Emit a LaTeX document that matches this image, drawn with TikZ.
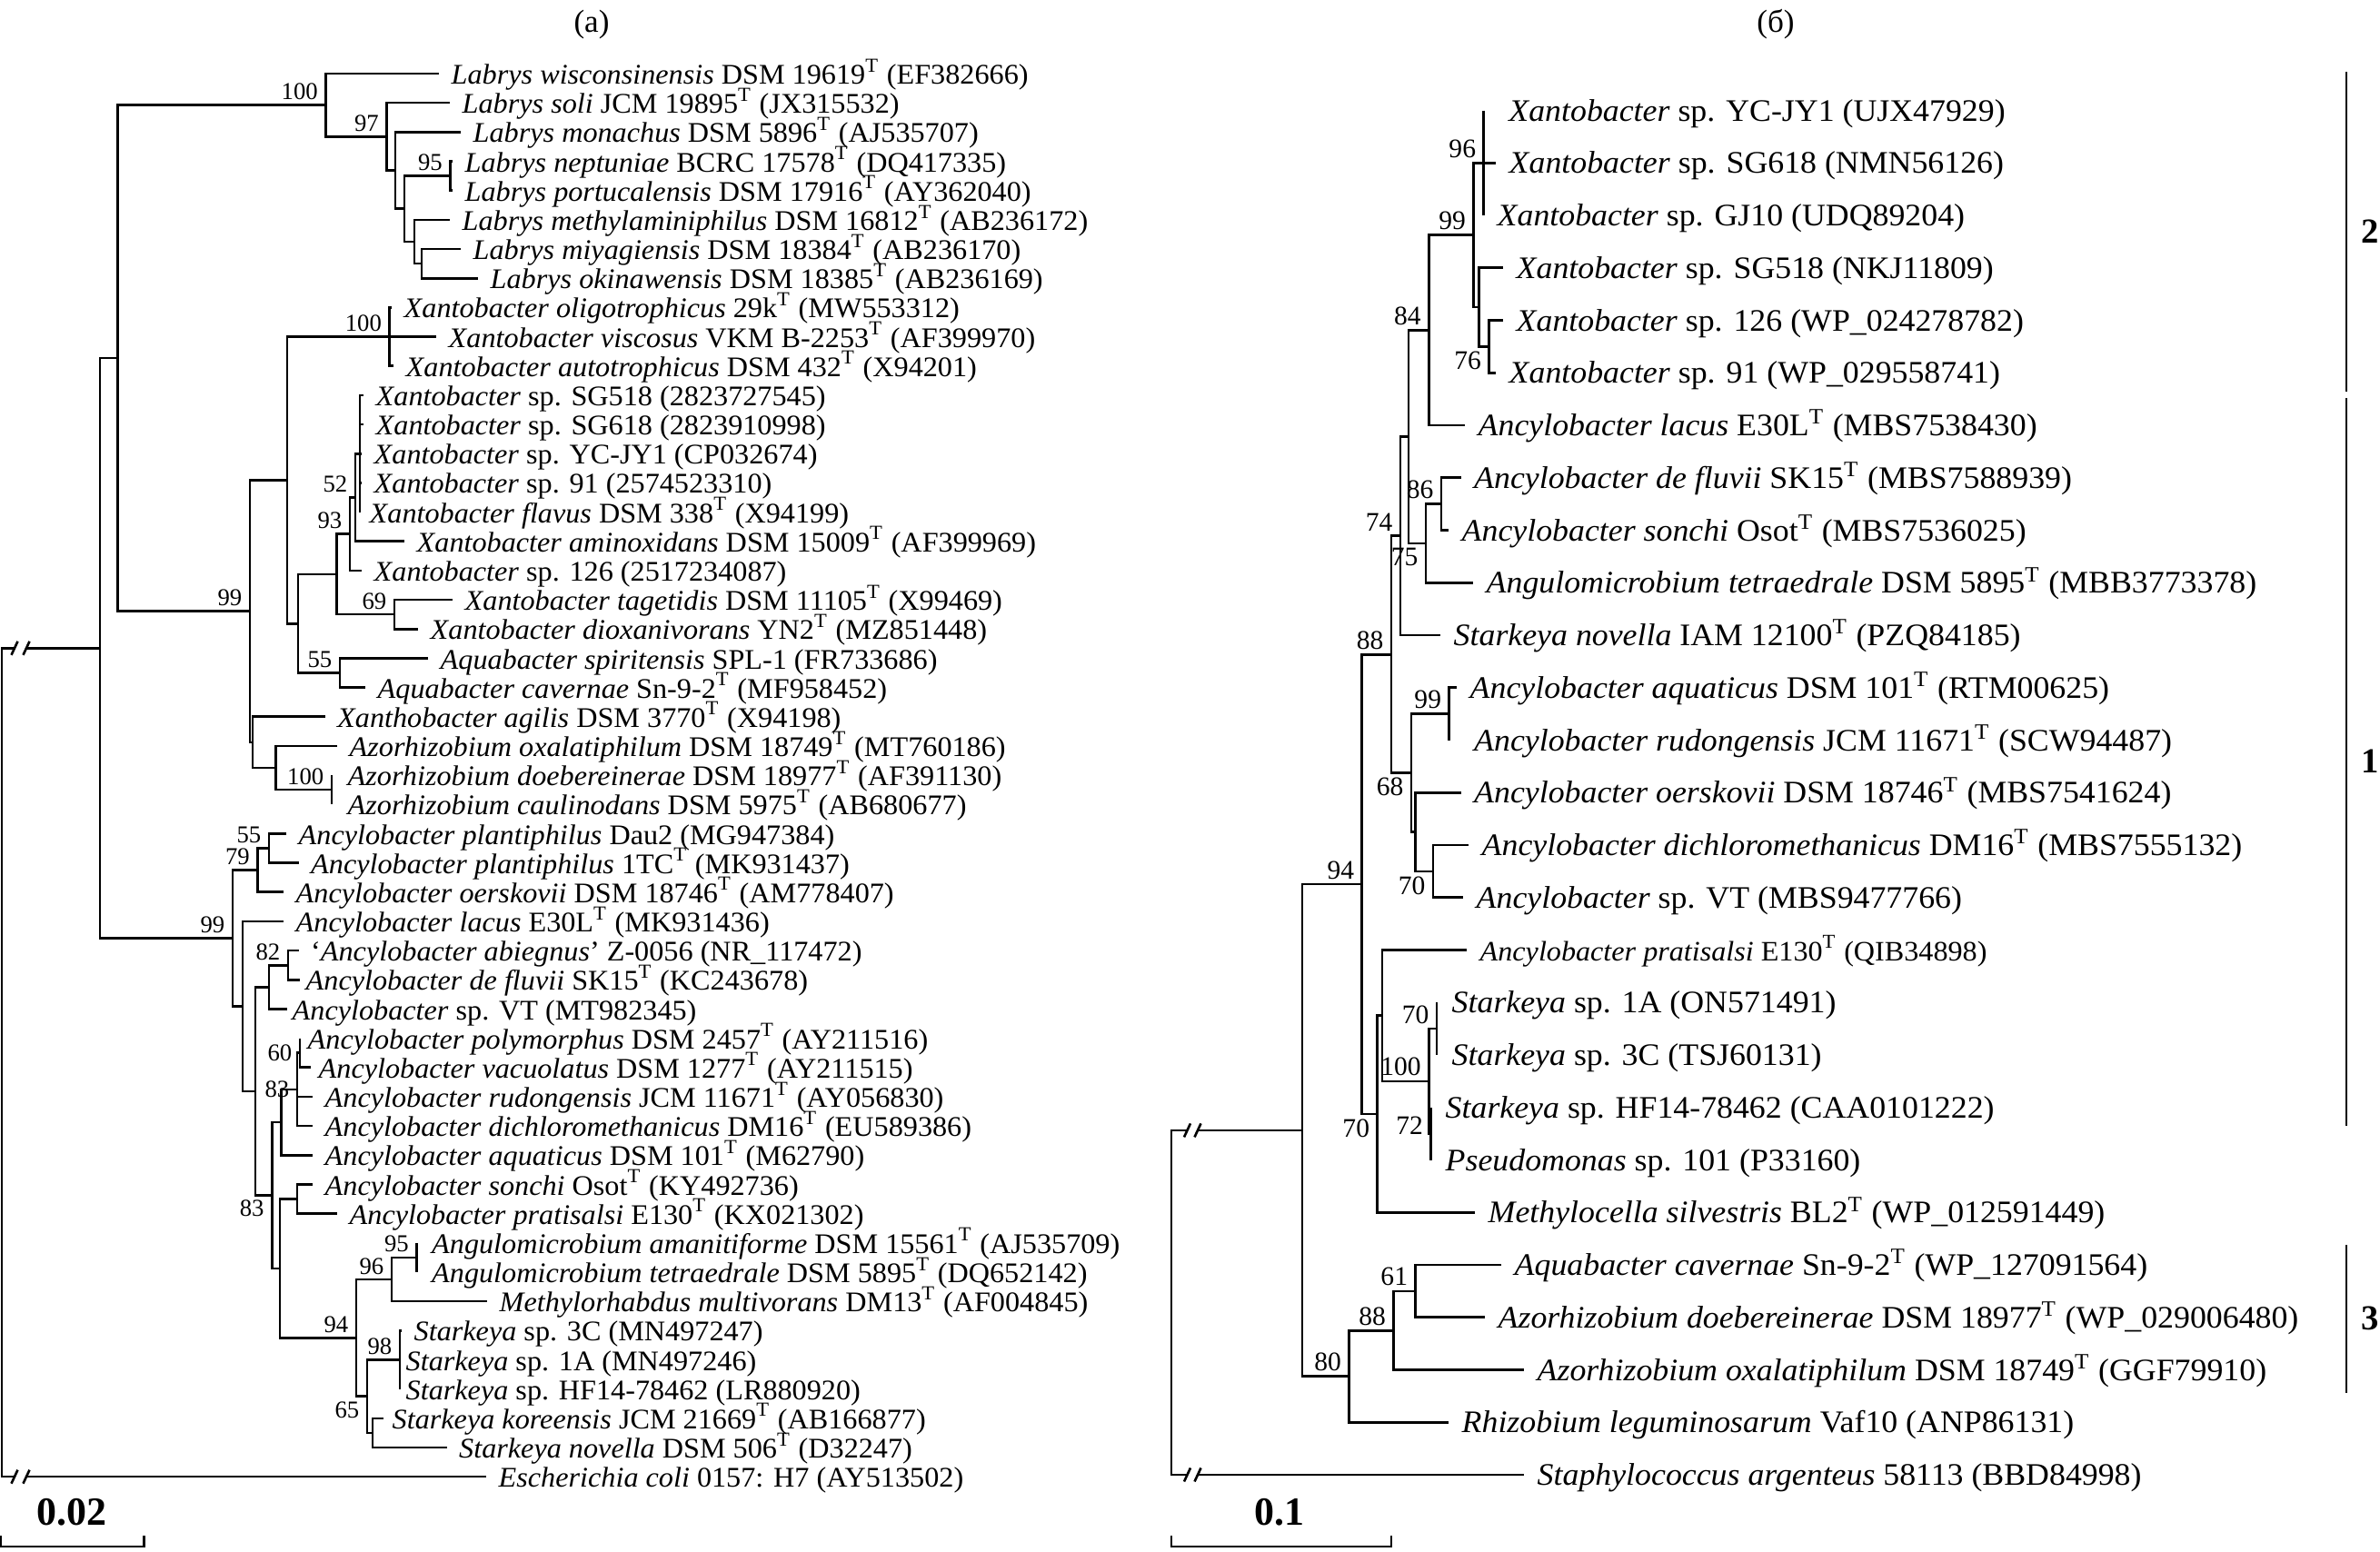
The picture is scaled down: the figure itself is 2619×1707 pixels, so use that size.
\documentclass[tikz,border=0pt]{standalone}
\usepackage{fontspec}
\setmainfont{Liberation Serif}
\newfontfamily\tipLfam[FakeStretch=1.03]{Liberation Serif}
\newfontfamily\tipRfam[FakeStretch=1.04]{Liberation Serif}
\newcommand{\tipLfont}{\tipLfam\fontsize{8.9pt}{10pt}\selectfont}
\newcommand{\tipRfont}{\tipRfam\fontsize{9.8pt}{11pt}\selectfont}
\newcommand{\tipRsmall}{\tipRfam\fontsize{8.8pt}{10pt}\selectfont}
\newcommand{\labLfont}{\fontsize{7.6pt}{9pt}\selectfont}
\newcommand{\labRfont}{\fontsize{8.4pt}{10pt}\selectfont}
\newcommand{\titfont}{\fontsize{10pt}{12pt}\selectfont}
\newcommand{\bnfont}{\bfseries\fontsize{12.5pt}{14pt}\selectfont}
\newcommand{\clnfont}{\bfseries\fontsize{11pt}{13pt}\selectfont}
\newcommand{\Tt}{\textsuperscript{T}}
\newcommand{\itn}[1]{\textit{#1}}
\newcommand{\clade}[3]{\draw[br] (#2) -| (#1) |- (#3);}
\newcommand{\midc}[2]{\draw[br] (#1 |- #2) -- (#2);}
\begin{document}
\begin{tikzpicture}[x=0.1mm,y=-0.1mm,
  br/.style={line width=0.75pt},
  thin bar/.style={line width=0.6pt},
  lt/.style={font=\tipLfont, anchor=west, inner ysep=0pt, inner xsep=1.3mm, text height=0.66em, text depth=0pt},
  rt/.style={font=\tipRfont, anchor=west, inner ysep=0pt, inner xsep=1.4mm, text height=0.66em, text depth=0pt},
  la/.style={inner sep=0pt, anchor=south east, xshift=-0.8mm, yshift=0.5mm},
  lb/.style={inner sep=0pt, anchor=north east, xshift=-0.8mm, yshift=-0.5mm},
  lc/.style={inner sep=0pt, anchor=east, xshift=-0.8mm}]
\fill[white] (0,0) rectangle (2619,1707);
\useasboundingbox (0,0) rectangle (2619,1707);

% titles
\node[font=\titfont] (ta) at (651,27) {(а)};
\node[font=\titfont] (tb) at (1954,27) {(б)};

% ================= LEFT TREE =================
\begin{scope}[y=-3.217mm, yshift=-4.883mm, font=\labLfont]
\node[lt] (t1) at (483,1) {\itn{Labrys wisconsinensis} DSM 19619\Tt{} (EF382666)};
\node[lt] (t2) at (495,2) {\itn{Labrys soli} JCM 19895\Tt{} (JX315532)};
\node[lt] (t3) at (507,3) {\itn{Labrys monachus} DSM 5896\Tt{} (AJ535707)};
\node[lt] (t4) at (498,4) {\itn{Labrys neptuniae} BCRC 17578\Tt{} (DQ417335)};
\node[lt] (t5) at (498,5) {\itn{Labrys portucalensis} DSM 17916\Tt{} (AY362040)};
\node[lt] (t6) at (495,6) {\itn{Labrys methylaminiphilus} DSM 16812\Tt{} (AB236172)};
\node[lt] (t7) at (507,7) {\itn{Labrys miyagiensis} DSM 18384\Tt{} (AB236170)};
\node[lt] (t8) at (526,8) {\itn{Labrys okinawensis} DSM 18385\Tt{} (AB236169)};
\node[lt] (t9) at (431,9) {\itn{Xantobacter oligotrophicus} 29k\Tt{} (MW553312)};
\node[lt] (t10) at (480,10) {\itn{Xantobacter viscosus} VKM B-2253\Tt{} (AF399970)};
\node[lt] (t11) at (433,11) {\itn{Xantobacter autotrophicus} DSM 432\Tt{} (X94201)};
\node[lt] (t12) at (400,12) {\itn{Xantobacter} sp. SG518 (2823727545)};
\node[lt] (t13) at (400,13) {\itn{Xantobacter} sp. SG618 (2823910998)};
\node[lt] (t14) at (398,14) {\itn{Xantobacter} sp. YC-JY1 (CP032674)};
\node[lt] (t15) at (398,15) {\itn{Xantobacter} sp. 91 (2574523310)};
\node[lt,inner xsep=1.0mm] (t16) at (396,16) {\itn{Xantobacter flavus} DSM 338\Tt{} (X94199)};
\node[lt] (t17) at (445,17) {\itn{Xantobacter aminoxidans} DSM 15009\Tt{} (AF399969)};
\node[lt] (t18) at (398,18) {\itn{Xantobacter} sp. 126 (2517234087)};
\node[lt] (t19) at (498,19) {\itn{Xantobacter tagetidis} DSM 11105\Tt{} (X99469)};
\node[lt] (t20) at (460,20) {\itn{Xantobacter dioxanivorans} YN2\Tt{} (MZ851448)};
\node[lt] (t21) at (471,21) {\itn{Aquabacter spiritensis} SPL-1 (FR733686)};
\node[lt] (t22) at (402,22) {\itn{Aquabacter cavernae} Sn-9-2\Tt{} (MF958452)};
\node[lt] (t23) at (357.5,23) {\itn{Xanthobacter agilis} DSM 3770\Tt{} (X94198)};
\node[lt] (t24) at (371,24) {\itn{Azorhizobium oxalatiphilum} DSM 18749\Tt{} (MT760186)};
\node[lt,inner xsep=1.7mm] (t25) at (365,25) {\itn{Azorhizobium doebereinerae} DSM 18977\Tt{} (AF391130)};
\node[lt,inner xsep=1.7mm] (t26) at (365,26) {\itn{Azorhizobium caulinodans} DSM 5975\Tt{} (AB680677)};
\node[lt] (t27) at (315,27) {\itn{Ancylobacter plantiphilus} Dau2 (MG947384)};
\node[lt] (t28) at (328.5,28) {\itn{Ancylobacter plantiphilus} 1TC\Tt{} (MK931437)};
\node[lt] (t29) at (312,29) {\itn{Ancylobacter oerskovii} DSM 18746\Tt{} (AM778407)};
\node[lt] (t30) at (312,30) {\itn{Ancylobacter lacus} E30L\Tt{} (MK931436)};
\node[lt] (t31) at (328.5,31) {‘\itn{Ancylobacter abiegnus}’ Z-0056 (NR\_117472)};
\node[lt,inner xsep=0.6mm] (t32) at (330,32) {\itn{Ancylobacter de fluvii} SK15\Tt{} (KC243678)};
\node[lt,inner xsep=0.5mm] (t33) at (316,33) {\itn{Ancylobacter} sp. VT (MT982345)};
\node[lt,inner xsep=0.8mm] (t34) at (330,34) {\itn{Ancylobacter polymorphus} DSM 2457\Tt{} (AY211516)};
\node[lt,inner xsep=0.85mm] (t35) at (341.5,35) {\itn{Ancylobacter vacuolatus} DSM 1277\Tt{} (AY211515)};
\node[lt] (t36) at (344,36) {\itn{Ancylobacter rudongensis} JCM 11671\Tt{} (AY056830)};
\node[lt] (t37) at (344,37) {\itn{Ancylobacter dichloromethanicus} DM16\Tt{} (EU589386)};
\node[lt] (t38) at (344,38) {\itn{Ancylobacter aquaticus} DSM 101\Tt{} (M62790)};
\node[lt] (t39) at (344,39) {\itn{Ancylobacter sonchi} Osot\Tt{} (KY492736)};
\node[lt] (t40) at (371,40) {\itn{Ancylobacter pratisalsi} E130\Tt{} (KX021302)};
\node[lt,inner xsep=1.6mm] (t41) at (458.5,41) {\itn{Angulomicrobium amanitiforme} DSM 15561\Tt{} (AJ535709)};
\node[lt,inner xsep=1.6mm] (t42) at (458.5,42) {\itn{Angulomicrobium tetraedrale} DSM 5895\Tt{} (DQ652142)};
\node[lt] (t43) at (536,43) {\itn{Methylorhabdus multivorans} DM13\Tt{} (AF004845)};
\node[lt] (t44) at (442,44) {\itn{Starkeya} sp. 3C (MN497247)};
\node[lt,inner xsep=0.6mm] (t45) at (440,45) {\itn{Starkeya} sp. 1A (MN497246)};
\node[lt,inner xsep=0.6mm] (t46) at (440,46) {\itn{Starkeya} sp. HF14-78462 (LR880920)};
\node[lt,inner xsep=0.9mm] (t47) at (422,47) {\itn{Starkeya koreensis} JCM 21669\Tt{} (AB166877)};
\node[lt] (t48) at (491.5,48) {\itn{Starkeya novella} DSM 506\Tt{} (D32247)};
\node[lt] (t49) at (535,49) {\itn{Escherichia coli} 0157: H7 (AY513502)};

\coordinate (n95) at (495.5,4.5);
\coordinate (n6) at (464,7.5);
\coordinate (n5) at (456,6.75);
\coordinate (n4) at (445,5.625);
\coordinate (n3) at (435,4.3125);
\coordinate (n97) at (425.5,3.156);
\coordinate (nL100) at (358.5,2.078);
\coordinate (nX100) at (428.6,10);
\coordinate (na1) at (396,14);
\coordinate (n52) at (391,15.5);
\coordinate (n93) at (385,16.75);
\coordinate (n69) at (434,19.5);
\coordinate (nZ) at (370.5,18.125);
\coordinate (n55a) at (374,21.5);
\coordinate (nY) at (328,19.8125);
\coordinate (nX) at (316,14.906);
\coordinate (nAz100) at (365,25.5);
\coordinate (nAz) at (303.6,24.75);
\coordinate (nAg) at (278,23.875);
\coordinate (n99big) at (275,19.39);
\coordinate (nA) at (129.5,10.734);
\coordinate (n55b) at (296,27.5);
\coordinate (n79) at (283.5,28.25);
\coordinate (n82) at (317,31.5);
\coordinate (nVT) at (296,32.25);
\coordinate (n60) at (330,34.5);
\coordinate (n83a) at (327,35.75);
\coordinate (nAq) at (309.4,36.875);
\coordinate (nSP) at (327,39.5);
\coordinate (n95b) at (458.5,41.5);
\coordinate (n96) at (431,42.25);
\coordinate (n98) at (440,45);
\coordinate (nKN) at (410,47.5);
\coordinate (n65) at (404,46.25);
\coordinate (n94a) at (392,44.25);
\coordinate (n83b) at (308,41.875);
\coordinate (n299) at (299.3,39.375);
\coordinate (n281) at (281,35.8125);
\coordinate (n267) at (267,32.906);
\coordinate (nAnc) at (256,30.578);
\coordinate (nR2) at (110,20.656);
\coordinate (rootL) at (2,34.83);

\clade{n95}{t4}{t5}
\clade{n6}{t7}{t8}
\clade{n5}{t6}{n6}
\clade{n4}{n95}{n5}
\clade{n3}{t3}{n4}
\clade{n97}{t2}{n3}
\clade{nL100}{t1}{n97}
\clade{nX100}{t9}{t11} \midc{nX100}{t10}
\clade{na1}{t12}{t16} \midc{na1}{t13} \midc{na1}{t14} \midc{na1}{t15}
\clade{n52}{na1}{t17}
\clade{n93}{n52}{t18}
\clade{n69}{t19}{t20}
\clade{nZ}{n93}{n69}
\clade{n55a}{t21}{t22}
\clade{nY}{nZ}{n55a}
\clade{nX}{nX100}{nY}
\clade{nAz100}{t25}{t26}
\clade{nAz}{t24}{nAz100}
\clade{nAg}{t23}{nAz}
\clade{n99big}{nX}{nAg}
\clade{nA}{nL100}{n99big}
\clade{n55b}{t27}{t28}
\clade{n79}{n55b}{t29}
\clade{n82}{t31}{t32}
\clade{nVT}{n82}{t33}
\clade{n60}{t34}{t35}
\clade{n83a}{n60}{t37} \midc{n83a}{t36}
\clade{nAq}{n83a}{t38}
\clade{nSP}{t39}{t40}
\clade{n95b}{t41}{t42}
\clade{n96}{n95b}{t43}
\clade{n98}{t44}{t46} \midc{n98}{t45}
\clade{nKN}{t47}{t48}
\clade{n65}{n98}{nKN}
\clade{n94a}{n96}{n65}
\clade{n83b}{nSP}{n94a}
\clade{n299}{nAq}{n83b}
\clade{n281}{nVT}{n299}
\clade{n267}{t30}{n281}
\clade{nAnc}{n79}{n267}
\clade{nR2}{nA}{nAnc}

% root with breaks
\coordinate (bL1) at (16,20.656);
\coordinate (bL2) at (29,20.656);
\coordinate (bL3) at (16,49);
\coordinate (bL4) at (29,49);
\draw[br] (bL1) -| (rootL) |- (bL3);
\draw[br] (bL2) -- (nR2);
\draw[br] (bL4) -- (t49);
\foreach \b in {bL1,bL2,bL3,bL4}
  \draw[br] ([xshift=-0.35mm,yshift=-0.75mm]\b) -- ([xshift=0.35mm,yshift=0.75mm]\b);

% bootstrap labels
\node[la] (a1) at (nL100) {100};
\node[la] (a2) at (n97) {97};
\node[la] (a3) at (n95) {95};
\node[la] (a4) at (nX100) {100};
\node[la] (a5) at (n52) {52};
\node[la] (a6) at (n93) {93};
\node[la] (a7) at (n69) {69};
\node[la] (a8) at (n55a) {55};
\node[la] (a9) at (n99big) {99};
\node[la] (a10) at (nAz100) {100};
\node[la] (a11) at (n55b) {55};
\node[la] (a12) at (n79) {79};
\node[la] (a13) at (nAnc) {99};
\node[la] (a14) at (n82) {82};
\node[lc] (a15) at (n60) {60};
\node[lc] (a16) at (n83a) {83};
\node[lb] (a17) at (n299) {83};
\node[la] (a18) at (n94a) {94};
\node[la] (a19) at (n96) {96};
\node[la] (a20) at (n95b) {95};
\node[la] (a21) at (n98) {98};
\node[lb] (a22) at (n65) {65};
\end{scope}

% ================= RIGHT TREE =================
\begin{scope}[y=-5.775mm, yshift=-6.375mm, font=\labRfont]
\node[rt,inner xsep=2.7mm] (u1) at (1632.7,1) {\itn{Xantobacter} sp. YC-JY1 (UJX47929)};
\node[rt] (u2) at (1646,2) {\itn{Xantobacter} sp. SG618 (NMN56126)};
\node[rt,inner xsep=1.43mm] (u3) at (1632.7,3) {\itn{Xantobacter} sp. GJ10 (UDQ89204)};
\node[rt] (u4) at (1654,4) {\itn{Xantobacter} sp. SG518 (NKJ11809)};
\node[rt] (u5) at (1654,5) {\itn{Xantobacter} sp. 126 (WP\_024278782)};
\node[rt] (u6) at (1646,6) {\itn{Xantobacter} sp. 91 (WP\_029558741)};
\node[rt] (u7) at (1612,7) {\itn{Ancylobacter lacus} E30L\Tt{} (MBS7538430)};
\node[rt] (u8) at (1607.5,8) {\itn{Ancylobacter de fluvii} SK15\Tt{} (MBS7588939)};
\node[rt] (u9) at (1594,9) {\itn{Ancylobacter sonchi} Osot\Tt{} (MBS7536025)};
\node[rt] (u10) at (1621,10) {\itn{Angulomicrobium tetraedrale} DSM 5895\Tt{} (MBB3773378)};
\node[rt] (u11) at (1585,11) {\itn{Starkeya novella} IAM 12100\Tt{} (PZQ84185)};
\node[rt] (u12) at (1603,12) {\itn{Ancylobacter aquaticus} DSM 101\Tt{} (RTM00625)};
\node[rt,inner xsep=2.68mm] (u13) at (1594.7,13) {\itn{Ancylobacter rudongensis} JCM 11671\Tt{} (SCW94487)};
\node[rt] (u14) at (1607.5,14) {\itn{Ancylobacter oerskovii} DSM 18746\Tt{} (MBS7541624)};
\node[rt] (u15) at (1616,15) {\itn{Ancylobacter dichloromethanicus} DM16\Tt{} (MBS7555132)};
\node[rt] (u16) at (1610,16) {\itn{Ancylobacter} sp. VT (MBS9477766)};
\node[rt,font=\tipRsmall] (u17) at (1614,17) {\itn{Ancylobacter pratisalsi} E130\Tt{} (QIB34898)};
\node[rt,inner xsep=1.6mm] (u18) at (1581,18) {\itn{Starkeya} sp. 1A (ON571491)};
\node[rt,inner xsep=1.6mm] (u19) at (1581,19) {\itn{Starkeya} sp. 3C (TSJ60131)};
\node[rt,inner xsep=1.54mm] (u20) at (1574.6,20) {\itn{Starkeya} sp. HF14-78462 (CAA0101222)};
\node[rt,inner xsep=1.54mm] (u21) at (1574.6,21) {\itn{Pseudomonas} sp. 101 (P33160)};
\node[rt] (u22) at (1623,22) {\itn{Methylocella silvestris} BL2\Tt{} (WP\_012591449)};
\node[rt] (u23) at (1652,23) {\itn{Aquabacter cavernae} Sn-9-2\Tt{} (WP\_127091564)};
\node[rt] (u24) at (1634,24) {\itn{Azorhizobium doebereinerae} DSM 18977\Tt{} (WP\_029006480)};
\node[rt] (u25) at (1677,25) {\itn{Azorhizobium oxalatiphilum} DSM 18749\Tt{} (GGF79910)};
\node[rt] (u26) at (1594,26) {\itn{Rhizobium leguminosarum} Vaf10 (ANP86131)};
\node[rt] (u27) at (1677,27) {\itn{Staphylococcus argenteus} 58113 (BBD84998)};

\coordinate (r96) at (1632.7,2);
\coordinate (r76) at (1638.5,5.5);
\coordinate (rSG) at (1627.3,4.75);
\coordinate (r99) at (1621.5,3.375);
\coordinate (r84) at (1572.4,5.1875);
\coordinate (r86) at (1586,8.5);
\coordinate (r75) at (1569,9.25);
\coordinate (rM) at (1550,7.21875);
\coordinate (r74) at (1541,9.109);
\coordinate (r99a) at (1594.7,12.5);
\coordinate (r70v) at (1577,15.5);
\coordinate (rO) at (1557.7,14.75);
\coordinate (r68) at (1553,13.625);
\coordinate (r88) at (1531,11.367);
\coordinate (r70a) at (1581,18.5);
\coordinate (r72) at (1574.6,20.5);
\coordinate (r100) at (1572.4,19.5);
\coordinate (rP) at (1521,18.25);
\coordinate (r70m) at (1515.7,20.125);
\coordinate (r94) at (1498.75,15.746);
\coordinate (r61) at (1557.7,23.5);
\coordinate (r88b) at (1533.6,24.25);
\coordinate (r80) at (1484.5,25.125);
\coordinate (rB) at (1433,20.4355);
\coordinate (rootR) at (1289,23.72);

\clade{r96}{u1}{u3} \midc{r96}{u2}
\clade{r76}{u5}{u6}
\clade{rSG}{u4}{r76}
\clade{r99}{r96}{rSG}
\clade{r84}{r99}{u7}
\clade{r86}{u8}{u9}
\clade{r75}{r86}{u10}
\clade{rM}{r84}{r75}
\clade{r74}{rM}{u11}
\clade{r99a}{u12}{u13}
\clade{r70v}{u15}{u16}
\clade{rO}{u14}{r70v}
\clade{r68}{r99a}{rO}
\clade{r88}{r74}{r68}
\clade{r70a}{u18}{u19}
\clade{r72}{u20}{u21}
\clade{r100}{r70a}{r72}
\clade{rP}{u17}{r100}
\clade{r70m}{rP}{u22}
\clade{r94}{r88}{r70m}
\clade{r61}{u23}{u24}
\clade{r88b}{r61}{u25}
\clade{r80}{r88b}{u26}
\clade{rB}{r94}{r80}

\coordinate (bR1) at (1306.5,20.4355);
\coordinate (bR2) at (1318,20.4355);
\coordinate (bR3) at (1306.5,27);
\coordinate (bR4) at (1318,27);
\draw[br] (bR1) -| (rootR) |- (bR3);
\draw[br] (bR2) -- (rB);
\draw[br] (bR4) -- (u27);
\foreach \b in {bR1,bR2,bR3,bR4}
  \draw[br] ([xshift=-0.35mm,yshift=-0.75mm]\b) -- ([xshift=0.35mm,yshift=0.75mm]\b);

\node[la] (b1) at (r96) {96};
\node[la] (b2) at (r99) {99};
\node[lb] (b3) at (r76) {76};
\node[la] (b4) at (r84) {84};
\node[la] (b5) at (r86) {86};
\node[lb] (b6) at (r75) {75};
\node[la] (b7) at (r74) {74};
\node[la] (b8) at (r88) {88};
\node[la] (b9) at (r99a) {99};
\node[lb] (b10) at (r68) {68};
\node[lb] (b11) at (r70v) {70};
\node[la] (b12) at (r94) {94};
\node[la] (b13) at (r70a) {70};
\node[la] (b14) at (r100) {100};
\node[lc,yshift=0.9mm] (b15) at (r72) {72};
\node[lb] (b16) at (r70m) {70};
\node[la] (b17) at (r61) {61};
\node[la] (b18) at (r88b) {88};
\node[la] (b19) at (r80) {80};
\end{scope}

% cluster bars
\coordinate (k2a) at (2582,79);  \coordinate (k2b) at (2582,431);
\coordinate (k1a) at (2582,438); \coordinate (k1b) at (2582,1239);
\coordinate (k3a) at (2582,1370); \coordinate (k3b) at (2582,1533);
\draw[thin bar] (k2a) -- (k2b);
\draw[thin bar] (k1a) -- (k1b);
\draw[thin bar] (k3a) -- (k3b);
\node[font=\clnfont] (c2) at (2608,255) {2};
\node[font=\clnfont] (c1) at (2608,838) {1};
\node[font=\clnfont] (c3) at (2608,1451) {3};

% scale bars
\coordinate (sL1) at (1,1690); \coordinate (sL2) at (158.5,1690);
\draw[thin bar] (sL1) -- (1,1702) -- (158.5,1702) -- (sL2);
\node[font=\bnfont] (sLt) at (79,1664) {0.02};
\coordinate (sR1) at (1289,1690); \coordinate (sR2) at (1531,1690);
\draw[thin bar] (sR1) -- (1289,1702) -- (1531,1702) -- (sR2);
\node[font=\bnfont] (sRt) at (1408,1664) {0.1};
\end{tikzpicture}
\end{document}
